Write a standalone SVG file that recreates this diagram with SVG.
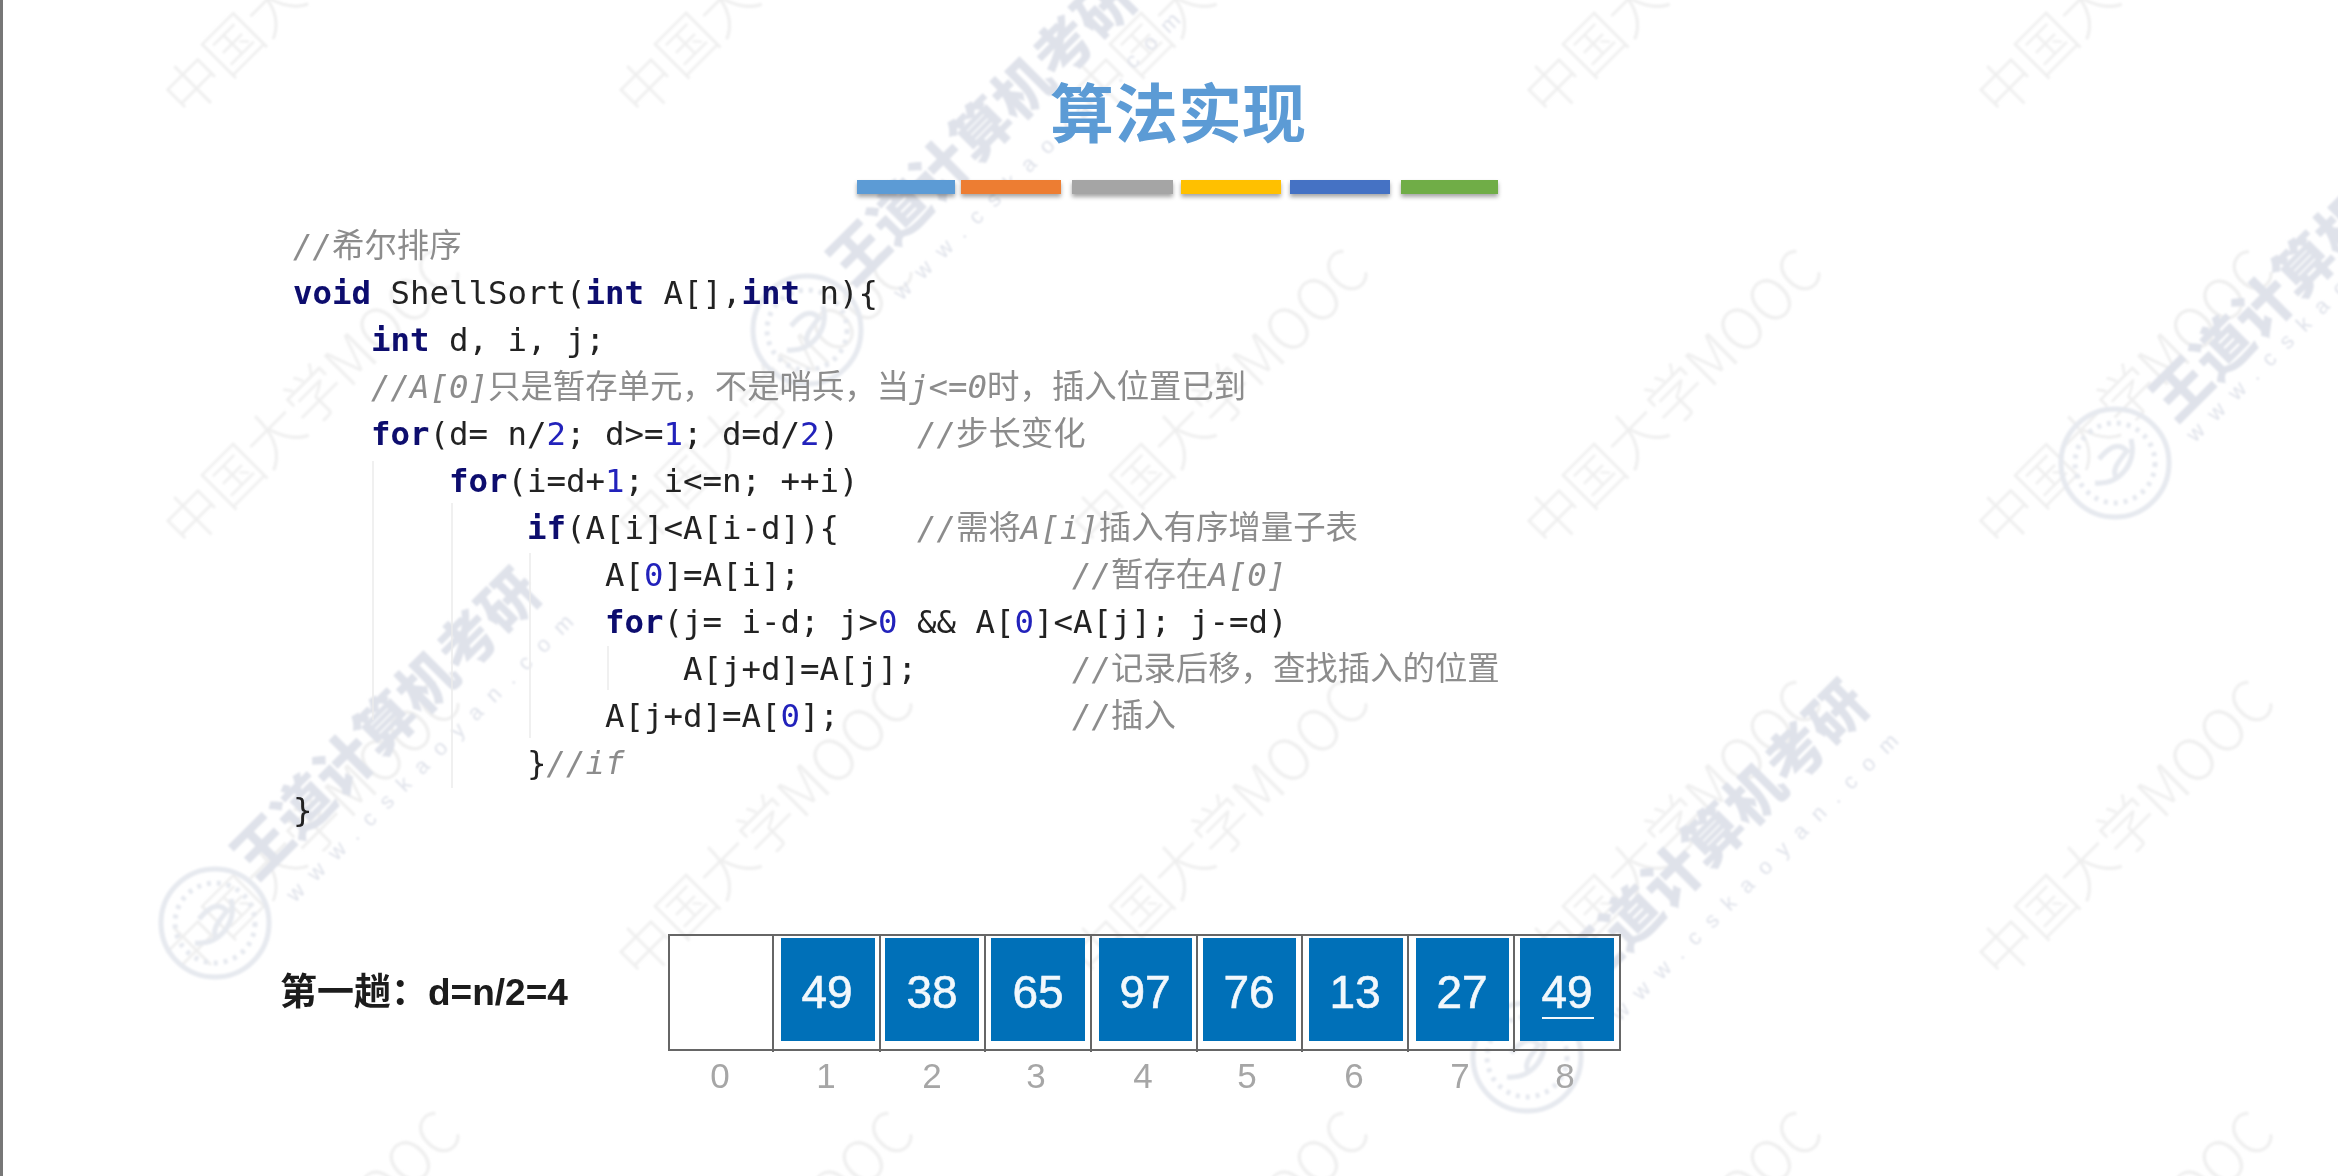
<svg xmlns="http://www.w3.org/2000/svg" width="2338" height="1176" viewBox="0 0 2338 1176">
<style>
.wm{font-family:"Noto Sans CJK SC","Liberation Sans",sans-serif;font-size:57px;font-weight:300;fill:#efefef}
.wb{font-family:"Noto Sans CJK SC","Liberation Sans",sans-serif;font-size:58px;font-weight:900;fill:#dfe2ea}
.wu{font-family:"Liberation Sans",sans-serif;font-size:22px;fill:#dfe2ea;letter-spacing:13.5px}
.lg{fill:none;stroke:#e6e9ef;stroke-width:5}
.c{font-family:"DejaVu Sans Mono","Noto Sans CJK SC",monospace;font-size:32.4px;fill:#222;white-space:pre}
.k{font-weight:700;fill:#0a0a6e}
.n{fill:#2222bb}
.g{fill:#8c8c8c;font-style:italic}
.h{font-style:normal}
.cell{fill:#0070b8}
.v{font-family:"Liberation Sans",sans-serif;font-size:46px;fill:#f2f8fc;stroke:#f2f8fc;stroke-width:.6;text-anchor:middle}
.i{font-family:"Liberation Sans",sans-serif;font-size:35px;fill:#a6a6a6;text-anchor:middle}
.d{stroke:#666;stroke-width:2;fill:none}
.guide{stroke:#ececec;stroke-width:1.5}
</style>
<defs>
<filter id="sh" x="-10%" y="-50%" width="120%" height="220%"><feDropShadow dx="0" dy="3" stdDeviation="2" flood-color="#000" flood-opacity=".35"/></filter>
<filter id="soft"><feGaussianBlur stdDeviation=".8"/></filter>
<filter id="soft2"><feGaussianBlur stdDeviation=".45"/></filter>
<g id="logo"><circle class="lg" r="54"/><circle class="lg" r="40" stroke-dasharray="4 6"/><path class="lg" d="M-20 20C5 22 22 0 16-24M-16-4C-4-18 4-20 12-12C2 0-4 8 2 16"/></g>
</defs>
<rect width="2338" height="1176" fill="#fff"/>
<rect x="0" y="0" width="3" height="1176" fill="#777"/>
<g id="watermarks" filter="url(#soft)">
<g id="wm-mooc">
<text class="wm" transform="translate(188 120) rotate(-45)">中国大学MOOC</text>
<text class="wm" transform="translate(641 120) rotate(-45)">中国大学MOOC</text>
<text class="wm" transform="translate(1096 120) rotate(-45)">中国大学MOOC</text>
<text class="wm" transform="translate(1549 120) rotate(-45)">中国大学MOOC</text>
<text class="wm" transform="translate(2001 120) rotate(-45)">中国大学MOOC</text>
<text class="wm" transform="translate(188 551) rotate(-45)">中国大学MOOC</text>
<text class="wm" transform="translate(641 551) rotate(-45)">中国大学MOOC</text>
<text class="wm" transform="translate(1096 551) rotate(-45)">中国大学MOOC</text>
<text class="wm" transform="translate(1549 551) rotate(-45)">中国大学MOOC</text>
<text class="wm" transform="translate(2001 551) rotate(-45)">中国大学MOOC</text>
<text class="wm" transform="translate(188 982) rotate(-45)">中国大学MOOC</text>
<text class="wm" transform="translate(641 982) rotate(-45)">中国大学MOOC</text>
<text class="wm" transform="translate(1096 982) rotate(-45)">中国大学MOOC</text>
<text class="wm" transform="translate(1549 982) rotate(-45)">中国大学MOOC</text>
<text class="wm" transform="translate(2001 982) rotate(-45)">中国大学MOOC</text>
<text class="wm" transform="translate(188 1413) rotate(-45)">中国大学MOOC</text>
<text class="wm" transform="translate(641 1413) rotate(-45)">中国大学MOOC</text>
<text class="wm" transform="translate(1096 1413) rotate(-45)">中国大学MOOC</text>
<text class="wm" transform="translate(1549 1413) rotate(-45)">中国大学MOOC</text>
<text class="wm" transform="translate(2001 1413) rotate(-45)">中国大学MOOC</text>
</g>
<g id="wm-brand">
<use href="#logo" x="215" y="923"/>
<text class="wb" transform="translate(257 882) rotate(-45)">王道计算机考研</text>
<text class="wu" transform="translate(295 903) rotate(-45)">www.cskaoyan.com</text>
<use href="#logo" x="807" y="330"/>
<text class="wb" transform="translate(853 288) rotate(-45)">王道计算机考研</text>
<text class="wu" transform="translate(902 301) rotate(-45)">www.cskaoyan.com</text>
<use href="#logo" x="1527" y="1057"/>
<text class="wb" transform="translate(1585 994) rotate(-45)">王道计算机考研</text>
<text class="wu" transform="translate(1620 1022) rotate(-45)">www.cskaoyan.com</text>
<use href="#logo" x="2115" y="463"/>
<text class="wb" transform="translate(2176 424) rotate(-45)">王道计算机考研</text>
<text class="wu" transform="translate(2195 443) rotate(-45)">www.cskaoyan.com</text>
</g>
</g>
<g id="title" filter="url(#soft2)">
<text x="1178" y="137" text-anchor="middle" style="font-family:'Noto Sans CJK SC',sans-serif;font-size:64px;font-weight:700;fill:#5b9bd5">算法实现</text>
</g>
<g id="color-bars" filter="url(#sh)">
<rect x="857" y="180" width="98" height="14" fill="#5b9bd5"/>
<rect x="961" y="180" width="100" height="14" fill="#ed7d31"/>
<rect x="1072" y="180" width="101" height="14" fill="#a5a5a5"/>
<rect x="1181" y="180" width="100" height="14" fill="#ffc000"/>
<rect x="1290" y="180" width="100" height="14" fill="#4472c4"/>
<rect x="1401" y="180" width="97" height="14" fill="#70ad47"/>
</g>
<g id="indent-guides">
<path class="guide" d="M373 461V720M452 503V788M530 553V738M608 646V690"/>
</g>
<g id="code" filter="url(#soft2)">
<text class="c g" x="293" y="257">//<tspan class="h">希尔排序</tspan></text>
<text class="c" x="293" y="304"><tspan class="k">void</tspan> ShellSort(<tspan class="k">int</tspan> A[],<tspan class="k">int</tspan> n){</text>
<text class="c" x="371" y="351"><tspan class="k">int</tspan> d, i, j;</text>
<text class="c g" x="371" y="398">//A[0]<tspan class="h">只是暂存单元，不是哨兵，当</tspan>j&lt;=0<tspan class="h">时，插入位置已到</tspan></text>
<text class="c" x="371" y="445"><tspan class="k">for</tspan>(d= n/<tspan class="n">2</tspan>; d&gt;=<tspan class="n">1</tspan>; d=d/<tspan class="n">2</tspan>)</text>
<text class="c g" x="917" y="445">//<tspan class="h">步长变化</tspan></text>
<text class="c" x="449" y="492"><tspan class="k">for</tspan>(i=d+<tspan class="n">1</tspan>; i&lt;=n; ++i)</text>
<text class="c" x="527" y="539"><tspan class="k">if</tspan>(A[i]&lt;A[i-d]){</text>
<text class="c g" x="917" y="539">//<tspan class="h">需将</tspan>A[i]<tspan class="h">插入有序增量子表</tspan></text>
<text class="c" x="605" y="586">A[<tspan class="n">0</tspan>]=A[i];</text>
<text class="c g" x="1072" y="586">//<tspan class="h">暂存在</tspan>A[0]</text>
<text class="c" x="605" y="633"><tspan class="k">for</tspan>(j= i-d; j&gt;<tspan class="n">0</tspan> &amp;&amp; A[<tspan class="n">0</tspan>]&lt;A[j]; j-=d)</text>
<text class="c" x="683" y="680">A[j+d]=A[j];</text>
<text class="c g" x="1072" y="680">//<tspan class="h">记录后移，查找插入的位置</tspan></text>
<text class="c" x="605" y="727">A[j+d]=A[<tspan class="n">0</tspan>];</text>
<text class="c g" x="1072" y="727">//<tspan class="h">插入</tspan></text>
<text class="c" x="527" y="774">}<tspan class="g">//if</tspan></text>
<text class="c" x="293" y="821">}</text>
</g>
<g id="pass-label" filter="url(#soft2)">
<text x="280" y="1005" style="font-family:'Liberation Sans','Noto Sans CJK SC',sans-serif;font-size:37px;font-weight:700;fill:#1a1a1a">第一趟：d=n/2=4</text>
</g>
<g id="array-frame">
<path class="d" d="M669 935H1620V1050H669ZM773 935V1052M880 935V1052M985 935V1052M1091 935V1052M1197 935V1052M1302 935V1052M1408 935V1052M1514 935V1052"/>
</g>
<g id="cell-0"><text class="i" x="720" y="1088">0</text></g>
<g id="cell-1"><rect class="cell" x="781" y="938" width="94" height="103"/><text class="v" x="827" y="1008">49</text><text class="i" x="826" y="1088">1</text></g>
<g id="cell-2"><rect class="cell" x="885" y="938" width="94" height="103"/><text class="v" x="932" y="1008">38</text><text class="i" x="932" y="1088">2</text></g>
<g id="cell-3"><rect class="cell" x="991" y="938" width="94" height="103"/><text class="v" x="1038" y="1008">65</text><text class="i" x="1036" y="1088">3</text></g>
<g id="cell-4"><rect class="cell" x="1099" y="938" width="93" height="103"/><text class="v" x="1145" y="1008">97</text><text class="i" x="1143" y="1088">4</text></g>
<g id="cell-5"><rect class="cell" x="1203" y="938" width="93" height="103"/><text class="v" x="1249" y="1008">76</text><text class="i" x="1247" y="1088">5</text></g>
<g id="cell-6"><rect class="cell" x="1309" y="938" width="94" height="103"/><text class="v" x="1355" y="1008">13</text><text class="i" x="1354" y="1088">6</text></g>
<g id="cell-7"><rect class="cell" x="1416" y="938" width="93" height="103"/><text class="v" x="1462" y="1008">27</text><text class="i" x="1460" y="1088">7</text></g>
<g id="cell-8"><rect class="cell" x="1520" y="938" width="94" height="103"/><text class="v" x="1567" y="1008">49</text><rect x="1542" y="1017" width="52" height="2" fill="#f2f8fc"/><text class="i" x="1565" y="1088">8</text></g>
</svg>
